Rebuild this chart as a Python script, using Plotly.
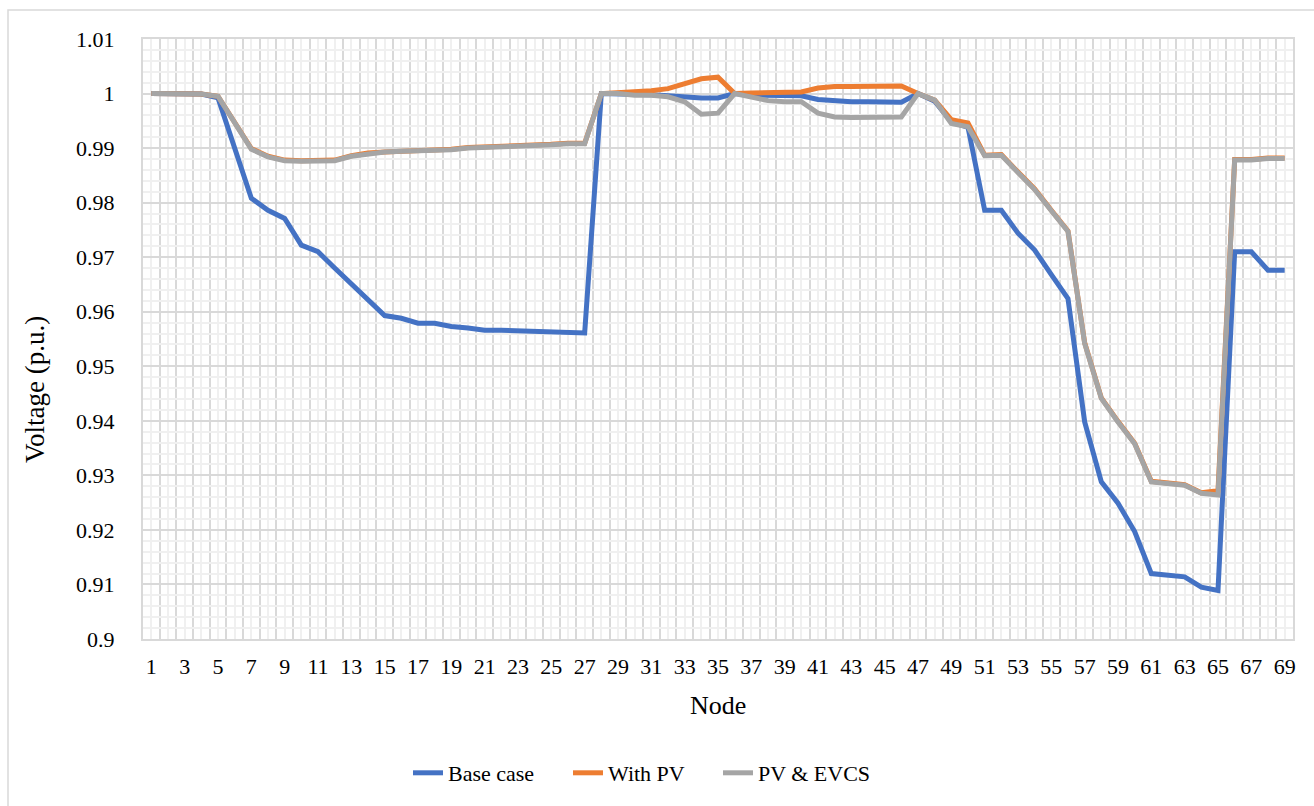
import plotly.graph_objects as go

# Bus voltage profile of the 69-node distribution feeder
nodes = list(range(1, 70))

base_case = [
    1.0000, 1.0000, 1.0000, 0.9999, 0.9992, 0.9900, 0.9808, 0.9786, 0.9771, 0.9722,
    0.9710, 0.9680, 0.9651, 0.9622, 0.9593, 0.9588, 0.9579, 0.9579, 0.9573, 0.9570,
    0.9566, 0.9566, 0.9565, 0.9563, 0.9562, 0.9561, 0.9561, 1.0000, 1.0000, 0.9999,
    0.9998, 0.9996, 0.9993, 0.9992, 0.9992, 1.0000, 0.9997, 0.9996, 0.9996, 0.9996,
    0.9989, 0.9986, 0.9985, 0.9985, 0.9984, 0.9984, 1.0000, 0.9986, 0.9948, 0.9938,
    0.9786, 0.9786, 0.9744, 0.9713, 0.9668, 0.9624, 0.9398, 0.9288, 0.9249, 0.9197,
    0.9120, 0.9117, 0.9114, 0.9095, 0.9089, 0.9710, 0.9710, 0.9676, 0.9676,
]

with_pv = [
    1.0000, 1.0000, 1.0000, 0.9999, 0.9995, 0.9946, 0.9899, 0.9885, 0.9878, 0.9877,
    0.9877, 0.9878, 0.9886, 0.9891, 0.9893, 0.9894, 0.9895, 0.9895, 0.9898, 0.9901,
    0.9902, 0.9902, 0.9903, 0.9905, 0.9907, 0.9909, 0.9909, 1.0000, 1.0001, 1.0003,
    1.0005, 1.0009, 1.0018, 1.0027, 1.0030, 1.0000, 1.0001, 1.0002, 1.0003, 1.0003,
    1.0010, 1.0013, 1.0013, 1.0013, 1.0014, 1.0014, 1.0000, 0.9988, 0.9952, 0.9946,
    0.9887, 0.9888, 0.9856, 0.9825, 0.9786, 0.9748, 0.9543, 0.9442, 0.9399, 0.9359,
    0.9289, 0.9286, 0.9283, 0.9268, 0.9272, 0.9879, 0.9879, 0.9882, 0.9882,
]

pv_evcs = [
    1.0000, 1.0000, 1.0000, 0.9999, 0.9995, 0.9945, 0.9898, 0.9884, 0.9877, 0.9876,
    0.9876, 0.9877, 0.9885, 0.9890, 0.9893, 0.9894, 0.9895, 0.9895, 0.9897, 0.9900,
    0.9901, 0.9901, 0.9902, 0.9904, 0.9906, 0.9908, 0.9908, 1.0000, 1.0000, 0.9997,
    0.9997, 0.9994, 0.9985, 0.9962, 0.9964, 1.0000, 0.9994, 0.9987, 0.9985, 0.9985,
    0.9964, 0.9957, 0.9956, 0.9956, 0.9957, 0.9957, 1.0000, 0.9988, 0.9945, 0.9939,
    0.9886, 0.9887, 0.9855, 0.9824, 0.9785, 0.9747, 0.9542, 0.9441, 0.9398, 0.9358,
    0.9288, 0.9285, 0.9282, 0.9267, 0.9264, 0.9878, 0.9878, 0.9881, 0.9881,
]

series = [
    ("Base case", base_case, "#4472C4"),
    ("With PV", with_pv, "#ED7D31"),
    ("PV & EVCS", pv_evcs, "#A5A5A5"),
]

y_ticks = [0.90, 0.91, 0.92, 0.93, 0.94, 0.95, 0.96, 0.97, 0.98, 0.99, 1.00, 1.01]
y_labels = ["0.9", "0.91", "0.92", "0.93", "0.94", "0.95", "0.96", "0.97", "0.98", "0.99", "1", "1.01"]

x_labels = [str(n) if n % 2 == 1 else "" for n in nodes]
x_bounds = [n + 0.5 for n in range(0, 70)]

FONT = "Liberation Serif"
MAJOR = "#D9D9D9"
MINOR = "#F0F0F0"

W, H = 1314, 806
L, R, T, B = 143, 21, 39, 167
pw, ph = W - L - R, H - T - B


def px_x(x):
    return (x - L) / pw


def px_y(y):
    return (H - B - y) / ph


# one legend box per series so the entries can be spaced freely
legend_ids = ["legend", "legend2", "legend3"]
legend_text_x = [453, 613, 763]

fig = go.Figure()
for (name, vals, color), lid in zip(series, legend_ids):
    fig.add_trace(go.Scatter(
        x=nodes, y=vals, name=name, mode="lines",
        line=dict(color=color, width=5), legend=lid,
    ))

legend_boxes = {}
for lid, tx in zip(legend_ids, legend_text_x):
    legend_boxes[lid] = dict(
        orientation="h", x=px_x(tx - 45), y=px_y(773), xanchor="left", yanchor="middle",
        font=dict(family=FONT, size=22, color="black"),
        bgcolor="rgba(0,0,0,0)", itemwidth=30,
    )

fig.update_layout(
    width=W, height=H,
    margin=dict(l=L, r=R, t=T, b=B),
    paper_bgcolor="white", plot_bgcolor="white",
    font=dict(family=FONT, size=22, color="black"),
    showlegend=True,
    **legend_boxes,
    xaxis=dict(
        range=[0.5, 69.5],
        tickmode="array", tickvals=nodes, ticktext=x_labels,
        showgrid=True, gridcolor=MINOR, gridwidth=1.5,
        minor=dict(tickmode="array", tickvals=x_bounds, showgrid=True,
                   gridcolor=MAJOR, gridwidth=2),
        showline=True, linecolor=MAJOR, linewidth=2, mirror=True,
        ticks="", ticklabelstandoff=7,
        zeroline=False,
    ),
    yaxis=dict(
        range=[0.90, 1.01],
        tickmode="array", tickvals=y_ticks, ticktext=y_labels,
        showgrid=True, gridcolor=MAJOR, gridwidth=2,
        minor=dict(dtick=0.002, tick0=0.9, showgrid=True, gridcolor=MINOR, gridwidth=1.5),
        showline=True, linecolor=MAJOR, linewidth=2, mirror=True,
        ticks="", ticklabelstandoff=22,
        zeroline=False,
    ),
    annotations=[
        dict(text="Node", xref="paper", yref="paper", x=px_x(718), y=px_y(705),
             xanchor="center", yanchor="middle", showarrow=False,
             font=dict(family=FONT, size=26, color="black")),
        dict(text="Voltage (p.u.)", xref="paper", yref="paper", x=px_x(35), y=px_y(390),
             xanchor="center", yanchor="middle", showarrow=False, textangle=-90,
             font=dict(family=FONT, size=27, color="black")),
    ],
)

# Chart-area frame
fig.add_shape(
    type="rect", xref="paper", yref="paper",
    x0=px_x(8), x1=px_x(1330), y0=px_y(820), y1=px_y(10),
    line=dict(color=MAJOR, width=1.5), fillcolor="rgba(0,0,0,0)", layer="below",
)

fig.write_html("out.html")
